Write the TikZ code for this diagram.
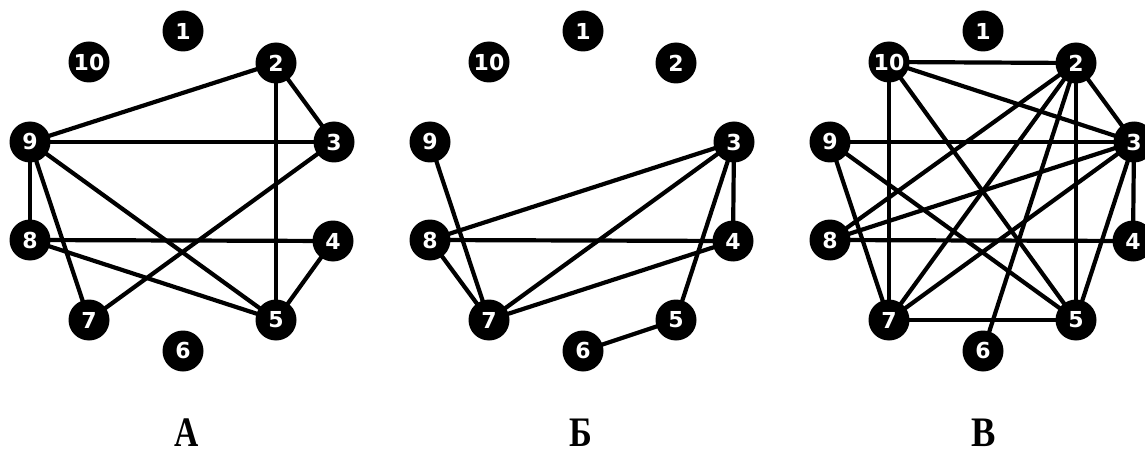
\documentclass[tikz,border=0pt]{standalone}
\usepackage{fontspec}
\newfontfamily\numfont{DejaVu Sans}
\newfontfamily\letterfont{Liberation Serif}
\usetikzlibrary{backgrounds}
\begin{document}
\begin{tikzpicture}[x=1pt,y=-1pt,
  vtx/.style={circle,fill=black,inner sep=0pt,minimum size=41pt,text=white,
    font=\numfont\bfseries\fontsize{22}{22}\selectfont},
  edge/.style={line width=4.2pt},
  caption/.style={font=\letterfont\bfseries\fontsize{42}{42}\selectfont,anchor=base,inner sep=0pt}]
\useasboundingbox (0,0) rectangle (1145,457);
\foreach \g/\dx in {a/0,b/400,c/800}{
  \foreach \n/\x/\y in {1/183/31,10/89/62,2/276/63,9/30/142,3/334/142,8/30/240,4/333/241,7/89/320,5/276/320,6/183/351}{
    \node[vtx] (\g\n) at (\x+\dx,\y) {\n};
  }
}
\begin{scope}[on background layer]
\foreach \u/\v in {9/2,2/3,2/5,9/3,9/8,9/7,9/5,8/4,8/5,3/7,4/5}
  \draw[edge] (a\u.center) -- (a\v.center);
\foreach \u/\v in {9/7,8/3,8/4,8/7,7/3,7/4,3/4,3/5,5/6}
  \draw[edge] (b\u.center) -- (b\v.center);
\foreach \u/\v in {10/2,10/3,10/7,10/5,2/3,2/5,2/8,2/7,2/6,3/9,3/8,3/7,3/4,3/5,9/7,9/5,8/4,7/5}
  \draw[edge] (c\u.center) -- (c\v.center);
\end{scope}
\node[caption] (capA) at (187,446) {\scalebox{0.8}[1]{А}};
\node[caption] (capB) at (581,446) {\scalebox{0.82}[1]{Б}};
\node[caption] (capC) at (984,446) {\scalebox{0.87}[1]{В}};
\end{tikzpicture}
\end{document}
